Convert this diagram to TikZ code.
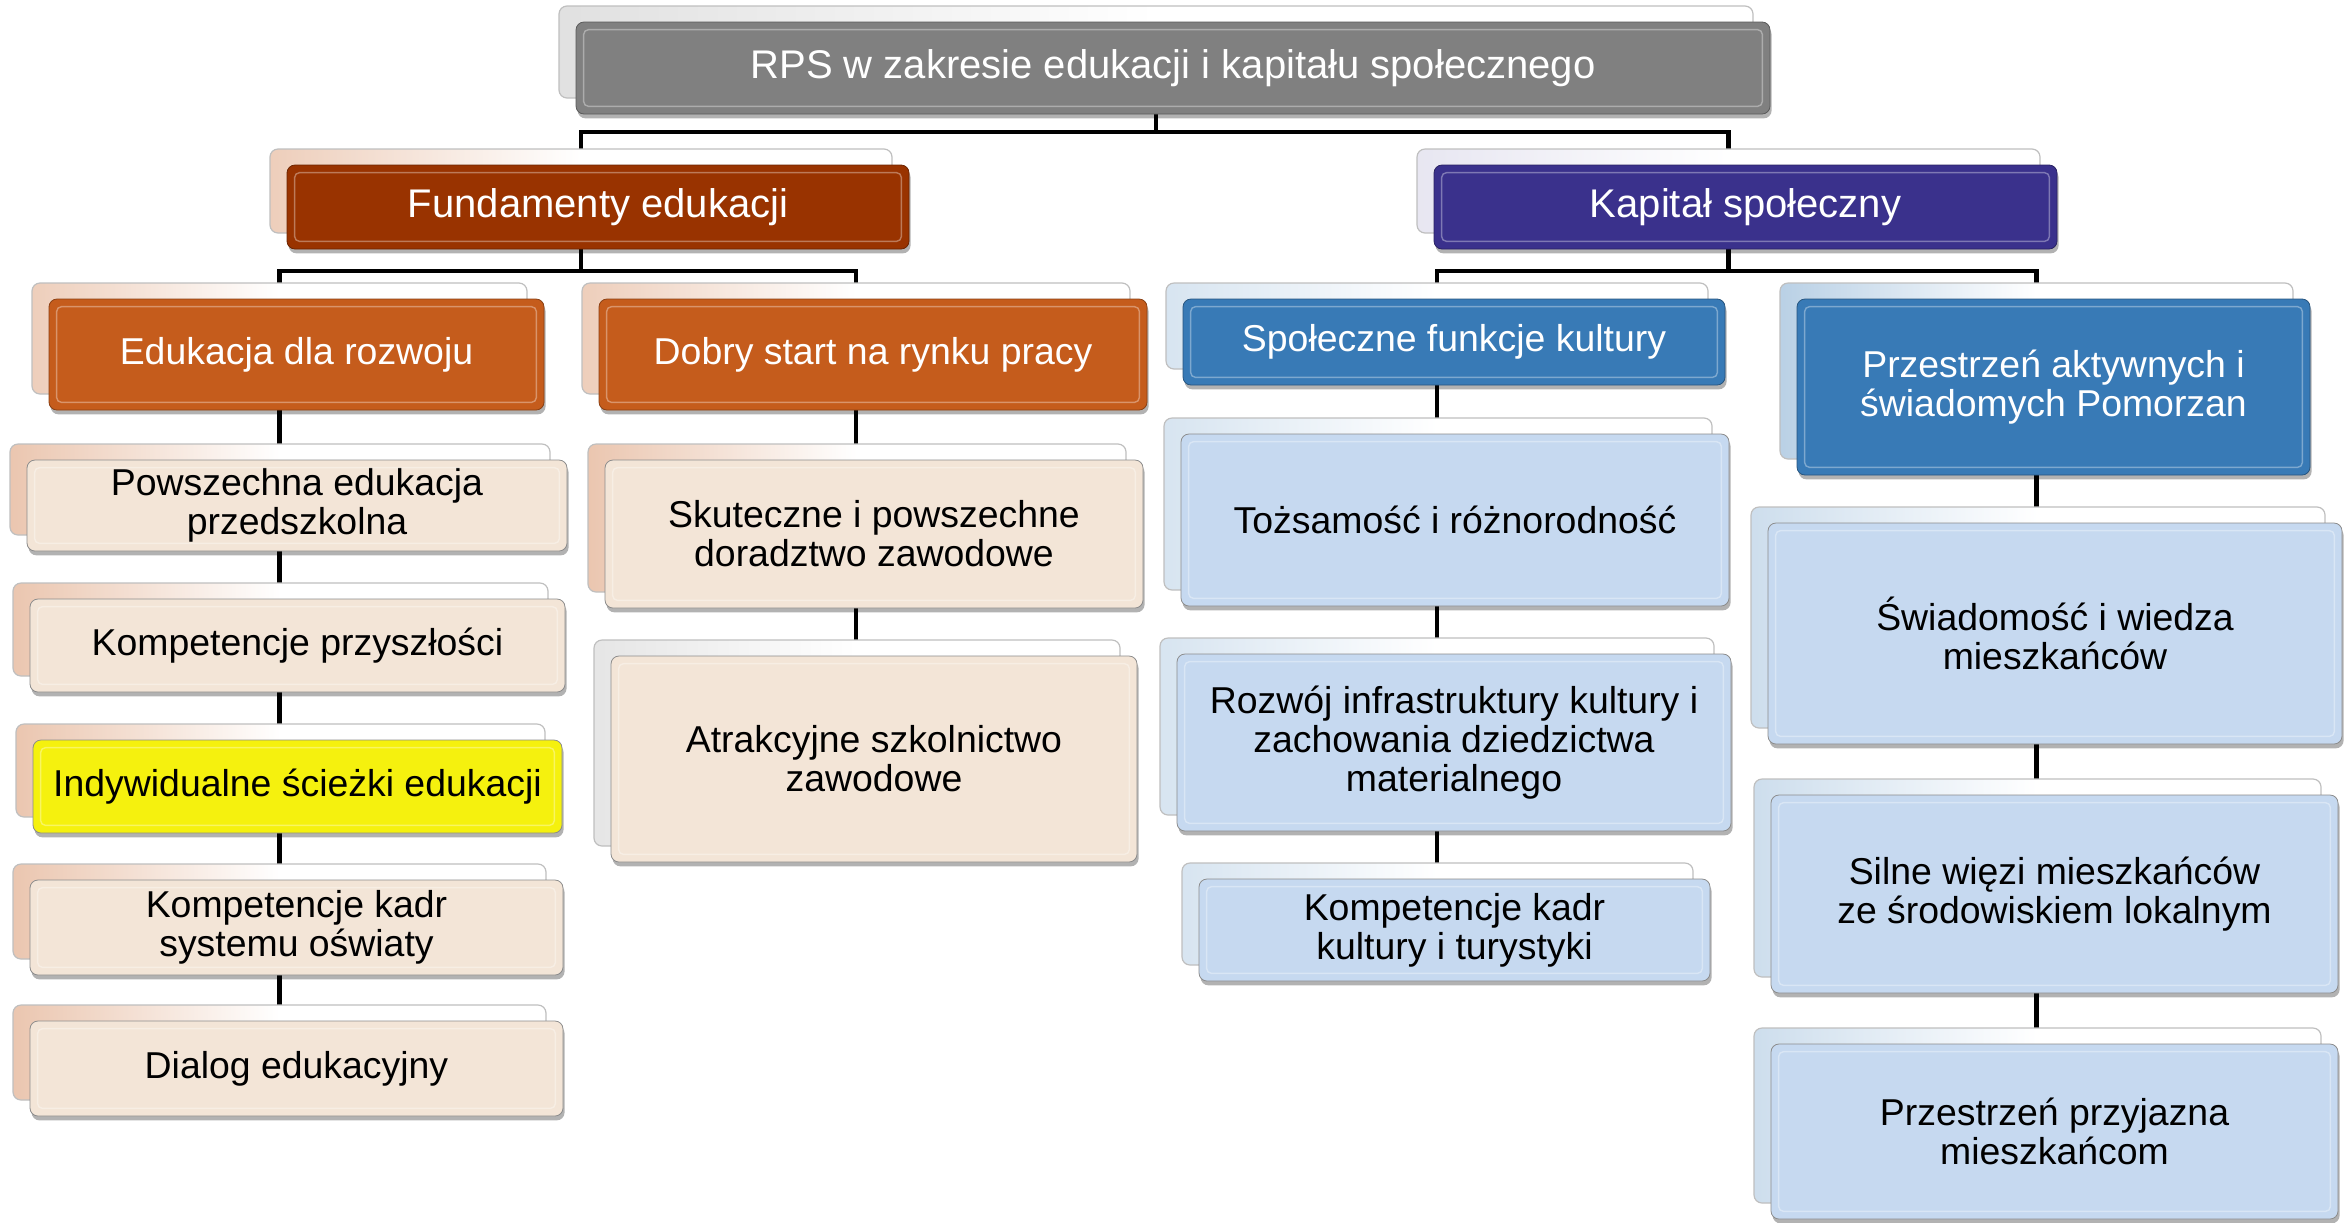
\documentclass[tikz,border=0pt]{standalone}
\usepackage{fontspec}
\setmainfont{Liberation Sans}
\usetikzlibrary{shadows,backgrounds}

\definecolor{cGray}{RGB}{128,128,128}
\definecolor{cRust}{RGB}{153,51,0}
\definecolor{cInd}{RGB}{58,49,140}
\definecolor{cOr}{RGB}{197,92,28}
\definecolor{cBl}{RGB}{56,122,182}
\definecolor{cBeige}{RGB}{243,229,215}
\definecolor{cLBl}{RGB}{198,217,240}
\definecolor{cYel}{RGB}{245,241,14}

\tikzset{
  conn/.style={line width=2.2pt, black},
  bigfont/.style={font=\fontsize{20}{21}\selectfont},
  frontbox/.style={rounded corners=4pt, inner sep=0pt, align=center,
    font=\fontsize{18.7}{19.5}\selectfont,
    drop shadow={shadow xshift=0.8pt, shadow yshift=-2.2pt, opacity=0.3, fill=black}},
  backbox/.style={rounded corners=4pt, inner sep=0pt, draw=black!25, line width=0.6pt,
    left color=#1, right color=white, middle color=white},
  grayb/.style={fill=cGray, draw=cGray!70!black, text=white, bigfont},
  rustb/.style={fill=cRust, draw=cRust!70!black, text=white, bigfont},
  indb/.style={fill=cInd, draw=cInd!70!black, text=white, bigfont},
  orb/.style={fill=cOr, draw=cOr!70!black, text=white},
  blb/.style={fill=cBl, draw=cBl!70!black, text=white},
  beigeb/.style={fill=cBeige, draw=black!45, text=black},
  lblb/.style={fill=cLBl, draw=black!45, text=black},
  yelb/.style={fill=cYel, draw=black!45, text=black},
}

% name, x1, y1, x2, y2, front style, back tint, text
\newcommand\ebox[8]{%
  \node[backbox=#7, minimum width={(#4-#2)*0.5pt}, minimum height={(#5-#3)*0.5pt}]
    (#1-b) at ({(#2+#4)/2-17},{(#3+#5)/2-16}) {};
  \node[frontbox, #6, minimum width={(#4-#2)*0.5pt}, minimum height={(#5-#3)*0.5pt}]
    (#1) at ({(#2+#4)/2},{(#3+#5)/2}) {#8};
  \draw[white, opacity=.35, line width=.7pt, rounded corners=2.5pt]
    ([xshift=4pt,yshift=-4pt]#1.north west) rectangle ([xshift=-4pt,yshift=4pt]#1.south east);
}

\begin{document}
\begin{tikzpicture}[x=0.5pt, y=-0.5pt]
\useasboundingbox (0,0) rectangle (2348,1222);

\ebox{top}{576}{22}{1770}{114}{grayb}{black!12}{RPS w zakresie edukacji i kapitału społecznego}
\ebox{fund}{287}{165}{909}{249}{rustb}{cOr!30}{Fundamenty edukacji}
\ebox{kap}{1434}{165}{2057}{249}{indb}{cInd!12}{Kapitał społeczny}

\ebox{edu}{49}{299}{544}{410}{orb}{cOr!30}{Edukacja dla rozwoju}
\ebox{dobry}{599}{299}{1147}{410}{orb}{cOr!30}{Dobry start na rynku pracy}
\ebox{spol}{1183}{299}{1725}{385}{blb}{cBl!20}{Społeczne funkcje kultury}
\ebox{przA}{1797}{299}{2310}{475}{blb}{cBl!35}{Przestrzeń aktywnych i\\świadomych Pomorzan}

\ebox{pow}{27}{460}{567}{551}{beigeb}{cOr!35}{Powszechna edukacja\\przedszkolna}
\ebox{kompP}{30}{599}{565}{692}{beigeb}{cOr!35}{Kompetencje przyszłości}
\ebox{indy}{33}{740}{562}{833}{yelb}{cOr!35}{Indywidualne ścieżki edukacji}
\ebox{kompK}{30}{880}{563}{975}{beigeb}{cOr!35}{Kompetencje kadr\\systemu oświaty}
\ebox{dial}{30}{1021}{563}{1116}{beigeb}{cOr!35}{Dialog edukacyjny}

\ebox{skut}{605}{460}{1143}{608}{beigeb}{cOr!35}{Skuteczne i powszechne\\doradztwo zawodowe}
\ebox{atr}{611}{656}{1137}{862}{beigeb}{black!10}{Atrakcyjne szkolnictwo\\zawodowe}

\ebox{toz}{1181}{434}{1729}{606}{lblb}{cBl!20}{Tożsamość i różnorodność}
\ebox{rozw}{1177}{654}{1731}{831}{lblb}{cBl!20}{Rozwój infrastruktury kultury i\\zachowania dziedzictwa\\materialnego}
\ebox{kompKul}{1199}{879}{1710}{981}{lblb}{cBl!20}{Kompetencje kadr\\kultury i turystyki}

\ebox{swiad}{1768}{523}{2342}{744}{lblb}{cBl!25}{Świadomość i wiedza\\mieszkańców}
\ebox{siln}{1771}{795}{2338}{993}{lblb}{cBl!25}{Silne więzi mieszkańców\\ze środowiskiem lokalnym}
\ebox{przP}{1771}{1044}{2338}{1219}{lblb}{cBl!25}{Przestrzeń przyjazna\\mieszkańcom}

\begin{scope}[on background layer]
  \coordinate (h1) at (0,132);
  \coordinate (h2) at (0,271);
  \draw[conn] (top-b.center) -- (top-b.center |- h1) -| (fund-b.center);
  \draw[conn] (top-b.center |- h1) -| (kap-b.center);
  \draw[conn] (fund-b.center) -- (fund-b.center |- h2) -| (edu-b.center);
  \draw[conn] (fund-b.center |- h2) -| (dobry-b.center);
  \draw[conn] (kap-b.center) -- (kap-b.center |- h2) -| (spol-b.center);
  \draw[conn] (kap-b.center |- h2) -| (przA-b.center);
  \draw[conn] (edu-b.center) -- (edu-b.center |- dial-b.center);
  \draw[conn] (dobry-b.center) -- (dobry-b.center |- atr-b.center);
  \draw[conn] (spol-b.center) -- (spol-b.center |- kompKul-b.center);
  \draw[conn] (przA-b.center) -- (przA-b.center |- przP-b.center);
\end{scope}
\end{tikzpicture}
\end{document}
